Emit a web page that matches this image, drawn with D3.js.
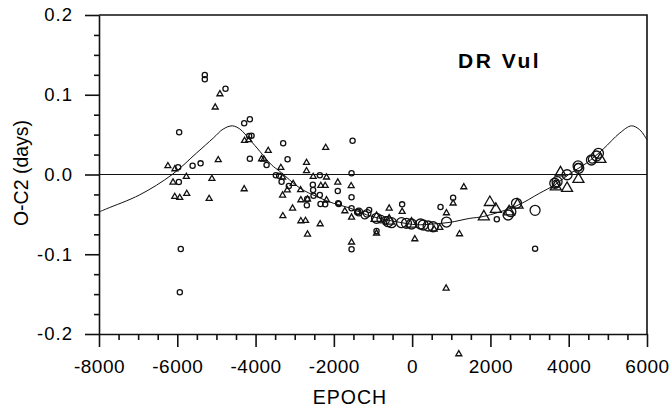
<!DOCTYPE html>
<html>
<head>
<meta charset="utf-8">
<script src="https://cdn.jsdelivr.net/npm/d3@7"></script>
<style>
  body { margin: 0; background: #fff; }
  svg { display: block; font-family: "Liberation Sans", Arial, sans-serif; }
</style>
</head>
<body>
<svg id="chart" width="672" height="411"></svg>
<script>
// axis ticks
const xMajor = [-8000, -6000, -4000, -2000, 0, 2000, 4000, 6000];
const yMajor = [-0.2, -0.1, 0.0, 0.1, 0.2];
const yLabels = ["-0.2", "-0.1", "0.0", "0.1", "0.2"];

// fitted O-C curve [epoch, O-C]
const fitCurve = [
  [-8000, -0.047], [-7808, -0.043], [-6960, -0.0255], [-6130, 0.0], [-5507, 0.027],
  [-5082, 0.0456], [-4827, 0.057], [-4597, 0.061], [-4401, 0.057], [-4145, 0.0435],
  [-3890, 0.029], [-3591, 0.012], [-3379, 0.0038], [-2868, -0.017], [-2442, -0.0276],
  [-2017, -0.036], [-1591, -0.042], [-1165, -0.0505], [-740, -0.056], [-314, -0.060],
  [112, -0.063], [537, -0.062], [965, -0.060], [1473, -0.055], [1814, -0.0527],
  [2666, -0.0393], [3262, -0.0233], [3645, -0.013], [4028, 0.001], [4453, 0.0142],
  [4879, 0.0318], [5305, 0.052], [5603, 0.061], [5816, 0.056], [6000, 0.0435]
];

// small circles
const circlesSmall = [
  [-5297, 0.1248], [-5297, 0.1194], [-4768, 0.1076], [-5952, 0.0529], [-4291, 0.0642],
  [-4146, 0.0692], [-4164, 0.0483], [-4103, 0.0487], [-4146, 0.0198], [-3719, 0.0119],
  [-5609, 0.0110], [-5405, 0.0140], [-5978, 0.0090], [-5960, -0.0094], [-3482, -0.0010],
  [-3183, 0.0191], [-3398, -0.0015], [-3336, -0.0090], [-3150, -0.0144], [-2537, -0.0128],
  [-2358, -0.0010], [-2358, -0.0257], [-2519, -0.0266], [-2682, -0.0307], [-2690, -0.0386],
  [-2341, -0.0370], [-2222, -0.0374], [-1900, -0.0207], [-3295, 0.0391], [-1522, 0.0424],
  [-1548, 0.0015], [-1548, -0.0286], [-2530, -0.0194], [-1890, -0.0361], [-1548, -0.0424],
  [-1404, -0.0474], [-1098, -0.0445], [-1378, -0.0466], [-910, -0.0708], [-256, -0.0374],
  [725, -0.0408], [1047, -0.0291], [2163, -0.0562], [3141, -0.0930], [-5911, -0.0934],
  [-5935, -0.1477], [-1548, -0.0938], [-1873, -0.0370]
];

// medium circles
const circlesMid = [
  [-1209, -0.0508], [-1150, -0.0487], [-1362, -0.0470], [-800, -0.0560], [-680, -0.0575],
  [3680, -0.0120], [4240, 0.0090], [4600, 0.0190]
];

// large circles
const circlesLarge = [
  [-910, -0.0549], [-614, -0.0592], [-527, -0.0604], [-272, -0.0604], [-144, -0.0612],
  [-16, -0.0621], [214, -0.0621], [281, -0.0633], [409, -0.0646], [536, -0.0655],
  [878, -0.0596], [2452, -0.0508], [2521, -0.0466], [2666, -0.0361], [3141, -0.0449],
  [3644, -0.0110], [3703, -0.0090], [3958, -0.0003], [4239, 0.0107], [4257, 0.0078],
  [4581, 0.0182], [4709, 0.0232], [4760, 0.0266]
];

// small triangles
const trianglesSmall = [
  [-4911, 0.1009], [-5031, 0.0843], [-4283, 0.0424], [-4172, 0.0433], [-4954, 0.0182],
  [-3677, 0.0298], [-3847, 0.0194], [-3788, 0.0191], [-6240, 0.0107], [-6061, 0.0069],
  [-5769, -0.0028], [-5116, -0.0053], [-6109, -0.0098], [-6065, -0.0278], [-5937, -0.0291],
  [-5758, -0.0241], [-5186, -0.0303], [-4291, -0.0182], [-2698, 0.0148], [-2698, 0.0044],
  [-3354, 0.0085], [-3310, -0.0035], [-3190, -0.0195], [-3039, -0.0115], [-3310, -0.0261],
  [-2850, -0.0194], [-2528, -0.0028], [-2188, -0.0035], [-1900, -0.0098], [-2333, -0.0140],
  [-2222, -0.0140], [-2843, -0.0320], [-2673, -0.0311], [-2188, -0.0320], [-3055, -0.0424],
  [-3303, -0.0520], [-2843, -0.0583], [-2724, -0.0579], [-2350, -0.0621], [-2673, -0.0750],
  [-2209, 0.0336], [-1558, -0.0144], [-1719, -0.0458], [-1548, -0.0537], [-1548, -0.0850],
  [-587, -0.0424], [-910, -0.0737], [-256, -0.0466], [68, -0.0809], [876, -0.0483],
  [1047, -0.0361], [1320, -0.0157], [1210, -0.0746], [707, -0.0667], [562, -0.0687],
  [868, -0.1427], [1192, -0.2251]
];

// large triangles
const trianglesLarge = [
  [-910, -0.0549], [-587, -0.0583], [-16, -0.0621], [1985, -0.0349], [2138, -0.0436],
  [1831, -0.0529], [2478, -0.0466], [2692, -0.0382], [3670, -0.0153], [3790, 0.0023],
  [3958, -0.0173], [4248, -0.0060], [4810, 0.0191]
];

const svg = d3.select("#chart");
const plotLeft = 99, plotRight = 647, plotTop = 15, plotBottom = 334;

const x = d3.scaleLinear().domain([-8000, 6000]).range([plotLeft, plotRight]);
const y = d3.scaleLinear().domain([-0.2, 0.2]).range([plotBottom, plotTop]);

const ink = "#111";

// minor ticks
const xMinor = d3.range(-8000, 6001, 500).filter(v => !xMajor.includes(v));
const yMinor = d3.range(-8, 9).map(i => i * 0.025).filter(v => Math.abs(v * 10 - Math.round(v * 10)) > 1e-6);

const gx = svg.append("g").attr("transform", `translate(0,${plotBottom})`);
gx.call(d3.axisBottom(x).tickValues(xMajor).tickSize(13).tickSizeOuter(0).tickPadding(13)
  .tickFormat(d => String(d)));
gx.append("g").call(d3.axisBottom(x).tickValues(xMinor).tickSize(6).tickFormat(""))
  .select(".domain").remove();

const gy = svg.append("g").attr("transform", `translate(${plotLeft},0)`);
gy.call(d3.axisLeft(y).tickValues(yMajor).tickSize(14).tickSizeOuter(0).tickPadding(12)
  .tickFormat((d, i) => yLabels[i]));
gy.append("g").call(d3.axisLeft(y).tickValues(yMinor).tickSize(5).tickFormat(""))
  .select(".domain").remove();

svg.selectAll(".domain, .tick line").attr("stroke", ink).attr("stroke-width", 1.6);
gx.selectAll(".tick text").attr("font-size", 19).attr("fill", "#000").attr("letter-spacing", 0.5);
gy.selectAll(".tick text").attr("font-size", 18.5).attr("fill", "#000").attr("letter-spacing", 1);

// top and right frame
svg.append("path")
  .attr("d", `M${x(-8000)},${y(0.2)}H${x(6000)}V${y(-0.2)}`)
  .attr("fill", "none").attr("stroke", ink).attr("stroke-width", 1.6);

// zero line
svg.append("line").attr("x1", x(-8000)).attr("x2", x(6000)).attr("y1", y(0)).attr("y2", y(0))
  .attr("stroke", ink).attr("stroke-width", 1.2);

// fitted curve
const line = d3.line().x(d => x(d[0])).y(d => y(d[1])).curve(d3.curveCatmullRom.alpha(0.5));
svg.append("path").datum(fitCurve).attr("d", line)
  .attr("fill", "none").attr("stroke", ink).attr("stroke-width", 1);

// markers
function triPath(s) {
  const h = s * Math.sqrt(3) / 2;
  return `M0,${-h * 2 / 3}L${s / 2},${h / 3}L${-s / 2},${h / 3}Z`;
}

const marks = svg.append("g").attr("fill", "none").attr("stroke", ink);

function drawCircles(data, r, sw) {
  marks.append("g").selectAll("circle").data(data).join("circle")
    .attr("cx", d => x(d[0])).attr("cy", d => y(d[1])).attr("r", r)
    .attr("stroke-width", sw);
}
function drawTriangles(data, s, sw) {
  marks.append("g").selectAll("path").data(data).join("path")
    .attr("transform", d => `translate(${x(d[0])},${y(d[1])})`)
    .attr("d", triPath(s)).attr("stroke-width", sw);
}

drawTriangles(trianglesSmall, 6, 1.3);
drawCircles(circlesSmall, 2.6, 1.3);
drawCircles(circlesMid, 3.8, 1.3);
drawTriangles(trianglesLarge, 11, 1.3);
drawCircles(circlesLarge, 5, 1.3);

// labels
svg.append("text").attr("x", 350).attr("y", 404).attr("text-anchor", "middle")
  .attr("font-size", 19.5).attr("letter-spacing", 1).attr("fill", "#000").text("EPOCH");

svg.append("text").attr("transform", "translate(28,173) rotate(-90)").attr("text-anchor", "middle")
  .attr("font-size", 19.5).attr("fill", "#000").text("O-C2 (days)");

svg.append("text").attr("x", 458).attr("y", 68).attr("font-size", 21).attr("font-weight", "bold")
  .attr("letter-spacing", 2.5).attr("fill", "#000").text("DR Vul");
</script>
</body>
</html>
